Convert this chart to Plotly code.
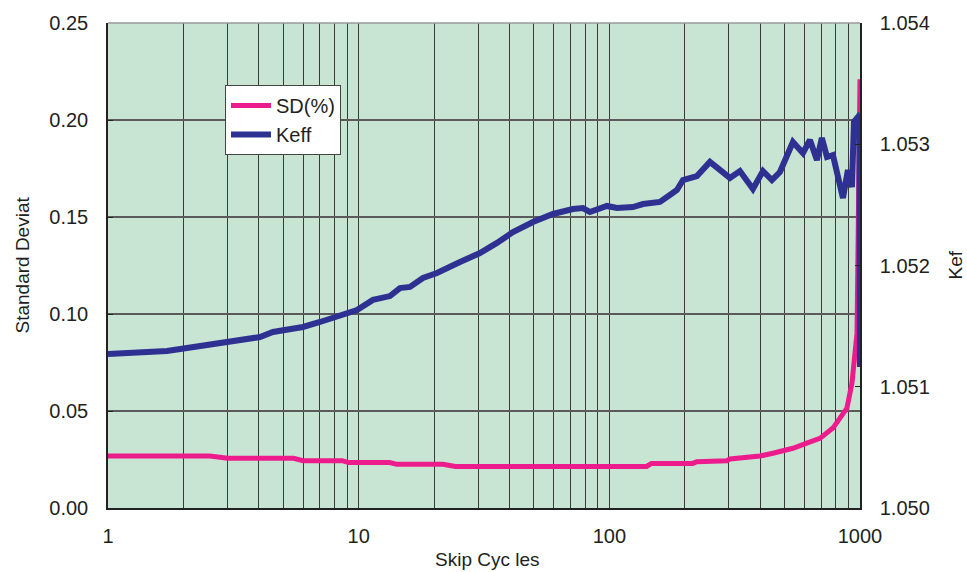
import plotly.graph_objects as go

# ---- data ----
keff_x = [1.0, 1.719, 2.066, 2.983, 4.04, 4.551, 5.995, 7.01, 9.845, 11.4, 13.33, 14.61, 16.02,
          18.05, 20.53, 25.36, 30.47, 35.62, 41.26, 49.57, 59.57, 71.57, 78.46, 83.67, 97.8,
          107.2, 124.2, 136.2, 159.1, 174.4, 186.1, 196.7, 223.6, 251.9, 276.2, 302.8, 331.8,
          374.0, 410.0, 445.3, 479.3, 540.0, 592.0, 631.3, 673.2, 704.6, 738.2, 779.9, 855.1,
          894.8, 928.6, 946.2, 981.2, 995.0, 1000.0]
keff_y = [1.051270, 1.051295, 1.051320, 1.051369, 1.051410, 1.051452, 1.051493, 1.051534,
          1.051633, 1.051716, 1.051748, 1.051814, 1.051823, 1.051897, 1.051938, 1.052029,
          1.052103, 1.052186, 1.052276, 1.052359, 1.052425, 1.052466, 1.052474, 1.052441,
          1.052491, 1.052474, 1.052482, 1.052507, 1.052524, 1.052581, 1.052623, 1.052705,
          1.052738, 1.052854, 1.052788, 1.052722, 1.052779, 1.052631, 1.052779, 1.052705,
          1.052771, 1.053019, 1.052928, 1.053035, 1.052870, 1.053052, 1.052895, 1.052911,
          1.052557, 1.052788, 1.052647, 1.053184, 1.053225, 1.053200, 1.051163]

sd_x = [1.0, 2.55, 3.0, 5.5, 6.0, 8.6, 9.1, 13.3, 14.2, 21.7, 24.3, 140.8, 147.3, 215.0,
        223.6, 295.0, 302.8, 347.5, 399.0, 449.0, 540.0, 613.0, 692.0, 780.0, 887.0, 929.0,
        964.0, 973.0, 1000.0]
sd_y = [0.0268, 0.0268, 0.0256, 0.0256, 0.0244, 0.0244, 0.0234, 0.0234, 0.0225, 0.0225,
        0.0214, 0.0214, 0.0230, 0.0230, 0.0239, 0.0244, 0.0253, 0.0261, 0.0268, 0.0282,
        0.0308, 0.0334, 0.0359, 0.0412, 0.0515, 0.0644, 0.0814, 0.0902, 0.2210]

x_ticks = [1, 10, 100, 1000]
x_tick_text = ["1", "10", "100", "1000"]

FONT = "Liberation Sans, Arial, sans-serif"
TXT = "#231f20"
GRID = "#3a3a3a"

fig = go.Figure()
fig.add_trace(go.Scatter(x=sd_x, y=sd_y, name="SD(%)", mode="lines",
                         line=dict(color="#ec1c8c", width=5), yaxis="y"))
fig.add_trace(go.Scatter(x=keff_x, y=keff_y, name="Keff", mode="lines",
                         line=dict(color="#2e3192", width=6), yaxis="y2"))

fig.update_layout(
    width=967, height=572,
    margin=dict(l=108, r=107, t=23, b=64),
    paper_bgcolor="white",
    plot_bgcolor="#c8e4d3",
    font=dict(family=FONT, size=20, color=TXT),
    showlegend=True,
    legend=dict(x=0.1556, y=0.872, xanchor="left", yanchor="top",
                bgcolor="white", bordercolor="#444444", borderwidth=1,
                font=dict(size=20, color=TXT), itemwidth=40,
                tracegroupgap=0),
    xaxis=dict(type="log", range=[0, 3], tickvals=x_ticks, ticktext=x_tick_text,
               showgrid=True, gridcolor=GRID, gridwidth=1,
               minor=dict(dtick="D1", showgrid=True, gridcolor=GRID, gridwidth=1, ticks=""),
               showline=True, linecolor="#222222", linewidth=1.5, ticks="",
               ticklabelstandoff=9, zeroline=False),
    yaxis=dict(range=[0, 0.25], dtick=0.05, tickformat=".2f",
               showgrid=True, gridcolor="#5a5a5a", gridwidth=1.5,
               showline=True, linecolor="#222222", linewidth=1.5,
               ticks="inside", ticklen=5, tickcolor="#222222",
               ticklabelstandoff=14, zeroline=False),
    yaxis2=dict(range=[1.050, 1.054], dtick=0.001, tickformat=".3f",
                overlaying="y", side="right", showgrid=False,
                showline=True, linecolor="#222222", linewidth=1.5,
                ticks="inside", ticklen=5, tickcolor="#222222",
                ticklabelstandoff=14, zeroline=False),
    shapes=[dict(type="line", xref="paper", yref="paper", x0=0, x1=1, y0=1, y1=1,
                 line=dict(color="#9a9a9a", width=1.5))],
    annotations=[
        dict(text="Skip Cyc les", xref="paper", yref="paper", x=0.505, y=-0.0, yshift=-51,
             showarrow=False, font=dict(size=19, color=TXT), yanchor="middle"),
        dict(text="Standard Deviat", xref="paper", yref="paper", x=0, xshift=-86, y=0.5,
             textangle=-90, showarrow=False, font=dict(size=19, color=TXT), xanchor="center"),
        dict(text="Kef", xref="paper", yref="paper", x=1, xshift=95, y=0.5,
             textangle=-90, showarrow=False, font=dict(size=19, color=TXT), xanchor="center"),
    ],
)

fig.write_html("out.html")
